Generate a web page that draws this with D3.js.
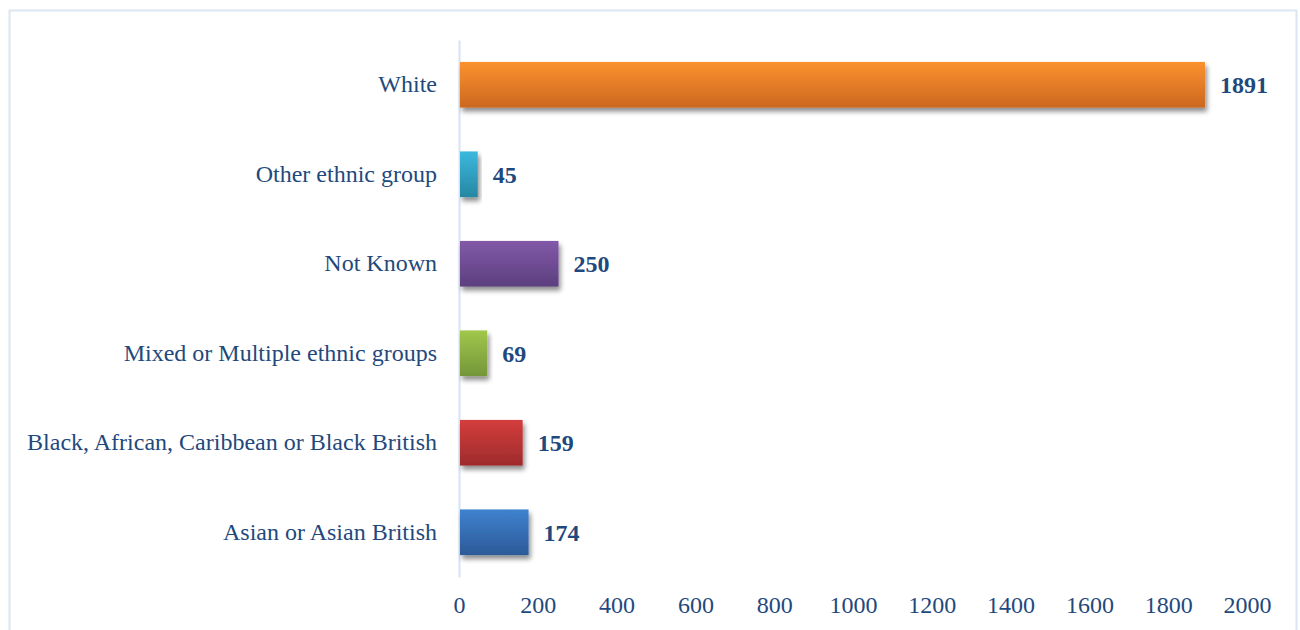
<!DOCTYPE html>
<html>
<head>
<meta charset="utf-8">
<script src="https://cdn.jsdelivr.net/npm/d3@7"></script>
<style>
  html, body { margin: 0; padding: 0; background: #fff; }
  svg { display: block; }
</style>
</head>
<body>
<svg id="chart" width="1300" height="630"></svg>
<script>
// Ethnic group counts, drawn top to bottom
const categories = [
  "White",
  "Other ethnic group",
  "Not Known",
  "Mixed or Multiple ethnic groups",
  "Black, African, Caribbean or Black British",
  "Asian or Asian British"
];
const values = [1891, 45, 250, 69, 159, 174];
const tickValues = [0, 200, 400, 600, 800, 1000, 1200, 1400, 1600, 1800, 2000];
const topColors = ["#fb922f", "#3cb8de", "#8259a8", "#a1c74b", "#d43d3d", "#3f82cf"];
const bottomColors = ["#cc671f", "#2687a3", "#5c3f7e", "#74963a", "#9e2b2b", "#2c5a98"];

const svg = d3.select("#chart");
const textColor = "#1f497d";
const serif = "'Liberation Serif', 'Times New Roman', serif";

// Outer frame
svg.append("rect")
  .attr("x", 9.5).attr("y", 10.5)
  .attr("width", 1287).attr("height", 640)
  .attr("fill", "#fff")
  .attr("stroke", "#dbe5f4").attr("stroke-width", 2);

const defs = svg.append("defs");
const shadow = defs.append("filter").attr("id", "barShadow")
  .attr("x", "-10%").attr("y", "-20%").attr("width", "130%").attr("height", "160%");
shadow.append("feGaussianBlur").attr("in", "SourceAlpha").attr("stdDeviation", 2.5).attr("result", "blur");
shadow.append("feOffset").attr("in", "blur").attr("dx", 2).attr("dy", 4).attr("result", "off");
shadow.append("feComponentTransfer").attr("in", "off").attr("result", "soft")
  .append("feFuncA").attr("type", "linear").attr("slope", 0.45);
const merge = shadow.append("feMerge");
merge.append("feMergeNode").attr("in", "soft");
merge.append("feMergeNode").attr("in", "SourceGraphic");

categories.forEach((c, i) => {
  const g = defs.append("linearGradient").attr("id", "grad" + i)
    .attr("x1", 0).attr("y1", 0).attr("x2", 0).attr("y2", 1);
  g.append("stop").attr("offset", "0%").attr("stop-color", topColors[i]);
  g.append("stop").attr("offset", "100%").attr("stop-color", bottomColors[i]);
});

const x = d3.scaleLinear().domain([0, 2000]).range([459, 1247]);
const y = d3.scaleBand().domain(categories).range([40, 577]).paddingInner(0.49).paddingOuter(0.245);

// Value axis labels (no ticks or line)
const xAxis = svg.append("g").attr("transform", "translate(0,577)")
  .call(d3.axisBottom(x).tickValues(tickValues).tickSize(0).tickPadding(19).tickFormat(d3.format("d")));
xAxis.select(".domain").remove();
xAxis.selectAll("text")
  .attr("fill", textColor)
  .style("font-family", serif)
  .style("font-size", "24px");

// Category axis
const yAxis = svg.append("g").attr("transform", "translate(459,0)")
  .call(d3.axisLeft(y).tickSize(0).tickPadding(22));
yAxis.select(".domain")
  .attr("stroke", "#d6e3f5").attr("stroke-width", 2);
yAxis.selectAll("text")
  .attr("fill", textColor)
  .style("font-family", serif)
  .style("font-size", "24px");

// Bars
svg.append("g").selectAll("rect")
  .data(categories)
  .join("rect")
  .attr("x", x(0) + 1)
  .attr("y", d => y(d))
  .attr("width", (d, i) => x(values[i]) - x(0))
  .attr("height", y.bandwidth())
  .attr("fill", (d, i) => `url(#grad${i})`)
  .attr("filter", "url(#barShadow)");

// Value labels
svg.append("g").selectAll("text")
  .data(categories)
  .join("text")
  .attr("x", (d, i) => x(values[i]) + 16)
  .attr("y", d => y(d) + y.bandwidth() / 2)
  .attr("dy", "0.35em")
  .attr("fill", textColor)
  .style("font-family", serif)
  .style("font-size", "24px")
  .style("font-weight", "bold")
  .text((d, i) => values[i]);
</script>
</body>
</html>
